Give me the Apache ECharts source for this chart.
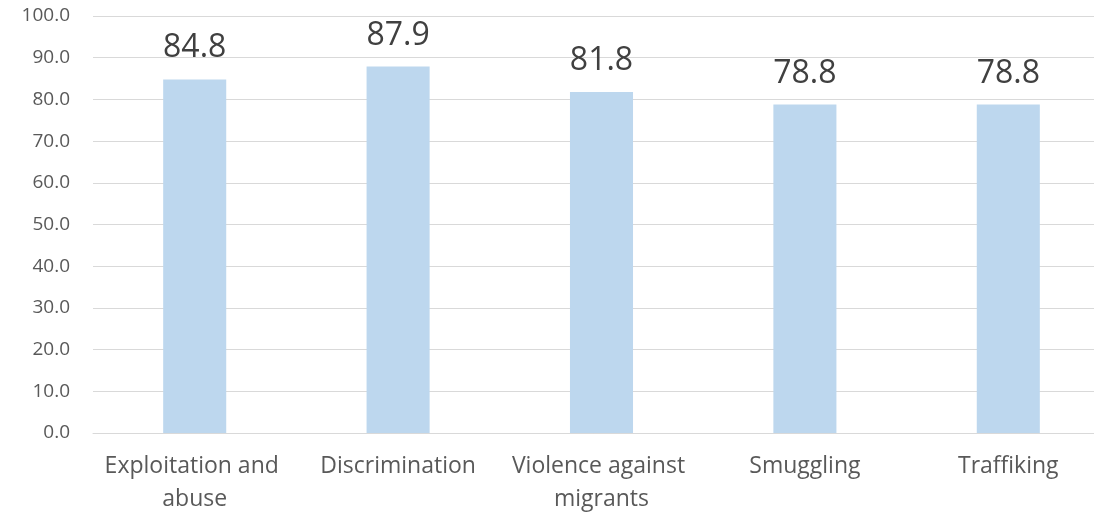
<!DOCTYPE html>
<html>
<head>
<meta charset="utf-8">
<script src="https://cdn.jsdelivr.net/npm/echarts@6/dist/echarts.min.js"></script>
<style>
  html, body { margin: 0; padding: 0; background: #ffffff; }
  #chart { width: 1094px; height: 512px; }
</style>
</head>
<body>
<div id="chart"></div>
<script>
// Categories and values
const categories = ['Exploitation and abuse', 'Discrimination', 'Violence against migrants', 'Smuggling', 'Traffiking'];
const values = [84.8, 87.9, 81.8, 78.8, 78.8];
const yMin = 0;
const yMax = 100;
const yStep = 10;

const chart = echarts.init(document.getElementById('chart'), null, { renderer: 'canvas' });

chart.setOption({
  backgroundColor: '#ffffff',
  animation: false,
  textStyle: { fontFamily: '"Open Sans", sans-serif' },
  grid: {
    left: 93,
    right: -16,
    top: 16,
    bottom: 79,
    containLabel: false,
    outerBoundsMode: 'none'
  },
  xAxis: {
    type: 'category',
    data: categories,
    axisLine: { show: true, lineStyle: { color: '#D9D9D9', width: 1 } },
    axisTick: { show: false },
    axisLabel: {
      color: '#595959',
      fontSize: 23,
      fontFamily: '"Open Sans", sans-serif',
      lineHeight: 33,
      margin: 17,
      width: 190,
      overflow: 'break',
      align: 'center',
      interval: 0
    }
  },
  yAxis: {
    type: 'value',
    min: yMin,
    max: yMax,
    interval: yStep,
    axisLine: { show: false },
    axisTick: { show: false },
    splitLine: { lineStyle: { color: '#D9D9D9', width: 1 } },
    axisLabel: {
      color: '#595959',
      fontSize: 19,
      fontFamily: '"Open Sans", sans-serif',
      margin: 23,
      formatter: v => v.toFixed(1)
    }
  },
  series: [{
    type: 'bar',
    data: values,
    barWidth: '31%',
    itemStyle: { color: '#BDD7EE' },
    label: {
      show: true,
      position: 'top',
      distance: 15,
      color: '#404040',
      fontSize: 32,
      fontFamily: '"Open Sans", sans-serif',
      formatter: p => p.value.toFixed(1)
    }
  }]
});
</script>
</body>
</html>
